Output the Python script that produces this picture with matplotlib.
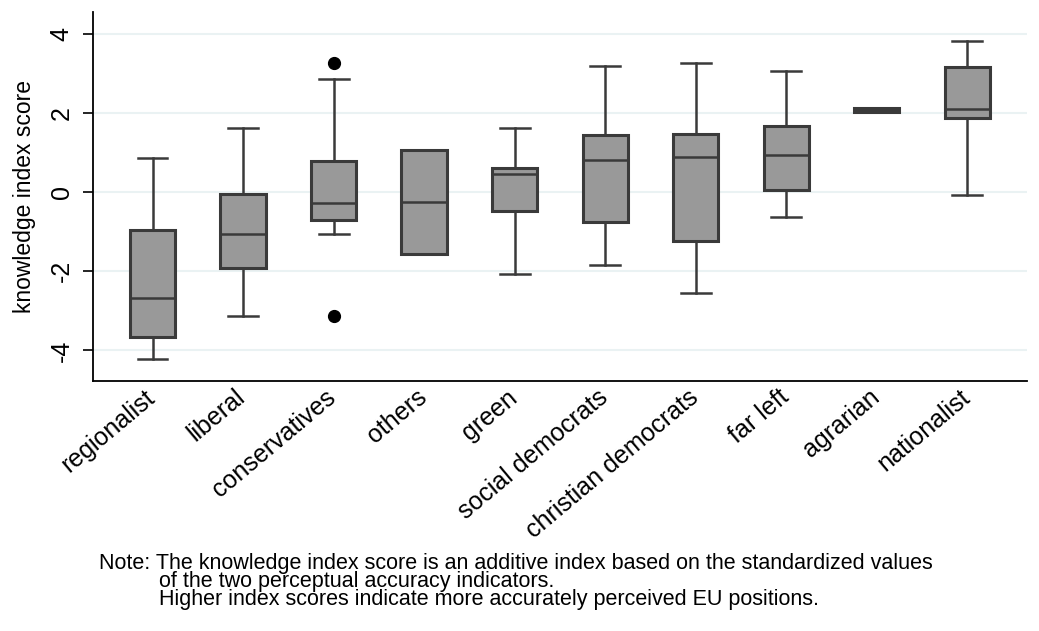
import matplotlib
matplotlib.use("Agg")
import matplotlib.pyplot as plt
import matplotlib.transforms as mtransforms

plt.rcParams['font.family'] = ['Liberation Sans', 'DejaVu Sans']

# party families, ordered by median knowledge score
groups = ["regionalist", "liberal", "conservatives", "others", "green",
          "social democrats", "christian democrats", "far left", "agrarian",
          "nationalist"]
whis_lo = [-4.23, -3.12, -1.06, -1.56, -2.07, -1.85, -2.55, -0.62, 2.03, -0.08]
q1      = [-3.65, -1.93, -0.72, -1.56, -0.49, -0.75, -1.23, 0.04, 2.03, 1.86]
median  = [-2.67, -1.06, -0.29, -0.25, 0.45, 0.82, 0.88, 0.94, 2.08, 2.10]
q3      = [-0.96, -0.06, 0.79, 1.05, 0.60, 1.45, 1.46, 1.67, 2.13, 3.15]
whis_hi = [0.87, 1.61, 2.85, 1.05, 1.61, 3.18, 3.26, 3.06, 2.13, 3.80]
outliers = [[], [], [3.26, -3.12], [], [], [], [], [], [], []]

yticks = [-4, -2, 0, 2, 4]
note_lines = [
    "Note: The knowledge index score is an additive index based on the standardized values",
    "of the two perceptual accuracy indicators.",
    "Higher index scores indicate more accurately perceived EU positions.",
]

stats = []
for i, g in enumerate(groups):
    stats.append(dict(label=g, whislo=whis_lo[i], q1=q1[i], med=median[i],
                      q3=q3[i], whishi=whis_hi[i], fliers=outliers[i]))

fig = plt.figure(figsize=(10.39, 6.31), dpi=100)
ax = fig.add_axes([0.0898, 0.3962, 0.8987, 0.5848])

edge = "#3a3a3a"
ax.bxp(stats, positions=range(len(groups)), widths=0.5, capwidths=0.33,
       patch_artist=True,
       boxprops=dict(facecolor="#999999", edgecolor=edge, linewidth=2.2),
       whiskerprops=dict(color=edge, linewidth=1.8),
       capprops=dict(color=edge, linewidth=1.8),
       medianprops=dict(color=edge, linewidth=1.8),
       flierprops=dict(marker="o", markerfacecolor="black",
                       markeredgecolor="black", markersize=8.5))

ax.set_xlim(-0.654, 9.66)
ax.set_ylim(-4.773, 4.545)
ax.set_yticks(yticks)
ax.set_yticklabels([str(t) for t in yticks], rotation=90, va="center",
                   fontsize=18)
ax.yaxis.grid(True, color="#eaf2f3", linewidth=1.5)
ax.set_axisbelow(True)
ax.tick_params(axis="y", length=7, width=1.2, pad=7, colors="black")
ax.tick_params(axis="x", length=0, pad=3)

ax.set_xticks(range(len(groups)))
ax.set_xticklabels(groups, rotation=40, ha="right", fontsize=18)
shift = mtransforms.ScaledTranslation(5 / 72, 0, fig.dpi_scale_trans)
for lbl in ax.get_xticklabels():
    lbl.set_transform(lbl.get_transform() + shift)

ax.set_ylabel("knowledge index score", fontsize=16.5, labelpad=10)

for side in ["top", "right"]:
    ax.spines[side].set_visible(False)
for side in ["left", "bottom"]:
    ax.spines[side].set_linewidth(1.3)
    ax.spines[side].set_color("black")

# footnote: continuation lines indented to sit under the text after "Note: "
indent = " " * 10
note = "\n".join([note_lines[0]] + [indent + s for s in note_lines[1:]])
fig.text(99 / 1039, 1 - 553.5 / 631, note, fontsize=15.5,
         va="top", ha="left", linespacing=0.81)

fig.savefig("out.png", dpi=100, facecolor="white")
